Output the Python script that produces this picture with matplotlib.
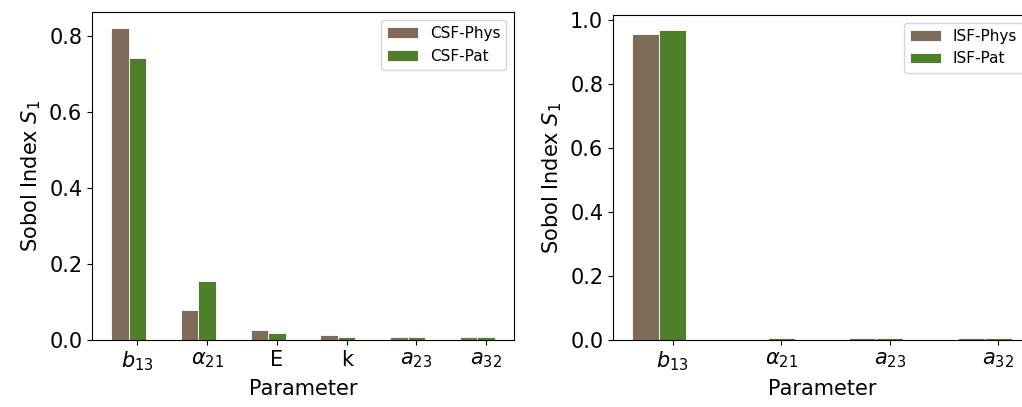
import numpy as np
import matplotlib
matplotlib.use("Agg")
import matplotlib.pyplot as plt

# CSF panel
csf_params = [r'$b_{13}$', r'$\alpha_{21}$', 'E', 'k', r'$a_{23}$', r'$a_{32}$']
csf_phys = [0.82, 0.079, 0.026, 0.014, 0.007, 0.007]
csf_pat = [0.742, 0.156, 0.019, 0.007, 0.007, 0.007]

# ISF panel
isf_params = [r'$b_{13}$', r'$\alpha_{21}$', r'$a_{23}$', r'$a_{32}$']
isf_phys = [0.958, 0.0, 0.007, 0.007]
isf_pat = [0.968, 0.007, 0.007, 0.007]

c_phys = '#7f6b5a'
c_pat = '#507f2c'
width = 0.25


def draw(ax, params, phys, pat, labels):
    x = np.arange(len(params))
    ax.bar(x - width, phys, width, color=c_phys, edgecolor='white', linewidth=0.6, label=labels[0])
    ax.bar(x, pat, width, color=c_pat, edgecolor='white', linewidth=0.6, label=labels[1])
    ax.set_xticks(x)
    ax.set_xticklabels(params, fontsize=15)
    ax.tick_params(axis='y', labelsize=15)
    ax.set_xlabel('Parameter', fontsize=15)
    ax.set_ylabel(r'Sobol Index $S_1$', fontsize=15)
    ax.legend(loc='upper right', fontsize=11)


fig = plt.figure(figsize=(10.22, 4.07), dpi=100)
ax1 = fig.add_axes([0.090, 0.1646, 0.413, 0.805])
ax2 = fig.add_axes([0.5998, 0.1646, 0.409, 0.7985])

draw(ax1, csf_params, csf_phys, csf_pat, ['CSF-Phys', 'CSF-Pat'])
draw(ax2, isf_params, isf_phys, isf_pat, ['ISF-Phys', 'ISF-Pat'])

fig.savefig('out.png', dpi=100)
